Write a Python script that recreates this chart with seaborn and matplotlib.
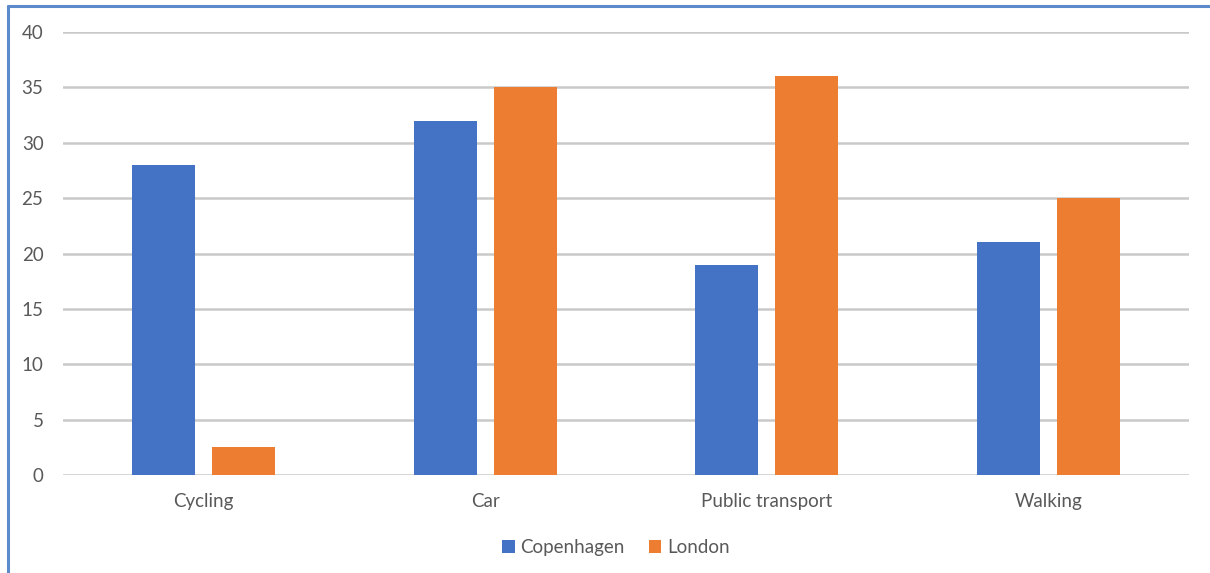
import matplotlib
matplotlib.use("Agg")
import matplotlib.pyplot as plt
from matplotlib.lines import Line2D
from matplotlib.patches import Patch
import pandas as pd
import seaborn as sns

categories = ["Cycling", "Car", "Public transport", "Walking"]
copenhagen = [28, 32, 19, 21]
london = [2.5, 35, 36, 25]
series_names = ["Copenhagen", "London"]
colors = ["#4472C4", "#ED7D31"]
y_ticks = [0, 5, 10, 15, 20, 25, 30, 35, 40]

df = pd.DataFrame({
    "mode": categories * 2,
    "share": copenhagen + london,
    "city": [series_names[0]] * len(categories) + [series_names[1]] * len(categories),
})

sns.set_theme(style="white")
plt.rcParams["font.family"] = ["Lato", "DejaVu Sans"]

fig = plt.figure(figsize=(12.1, 5.73), dpi=100)
ax = fig.add_axes([0.052, 0.171, 0.9306, 0.773])

sns.barplot(data=df, x="mode", y="share", hue="city", order=categories,
            hue_order=series_names, palette=colors, width=0.568, gap=0.21,
            saturation=1, errorbar=None, legend=False, linewidth=0,
            ax=ax, zorder=3)

ax.set_ylim(0, 40)
ax.set_xlim(-0.5, len(categories) - 0.5)
ax.set_yticks(y_ticks)
ax.set_yticklabels([str(t) for t in y_ticks])
for t in y_ticks:
    ax.axhline(t, color="#c9c9c9", lw=1.8, zorder=1)
for s in ax.spines.values():
    s.set_visible(False)
ax.set_xlabel("")
ax.set_ylabel("")
ax.tick_params(axis="both", length=0, labelsize=13.5, labelcolor="#595959")
ax.tick_params(axis="y", pad=14)
ax.tick_params(axis="x", pad=13)

handles = [Patch(facecolor=c, edgecolor="none") for c in colors]
fig.legend(handles, series_names, loc="center", bbox_to_anchor=(0.509, 0.044),
           ncol=2, frameon=False, fontsize=13.5, labelcolor="#595959",
           handlelength=0.65, handleheight=0.65, handletextpad=0.3,
           columnspacing=1.3)

# Frame around the chart area
border = "#5B8BCB"
fig.add_artist(Line2D([8 / 1210, 8 / 1210], [0, 1 - 6 / 573], color=border, lw=2.2,
                      transform=fig.transFigure))
fig.add_artist(Line2D([8 / 1210, 1], [1 - 6 / 573, 1 - 6 / 573], color=border, lw=2.2,
                      transform=fig.transFigure))

fig.savefig("out.png", dpi=100, facecolor="white")
